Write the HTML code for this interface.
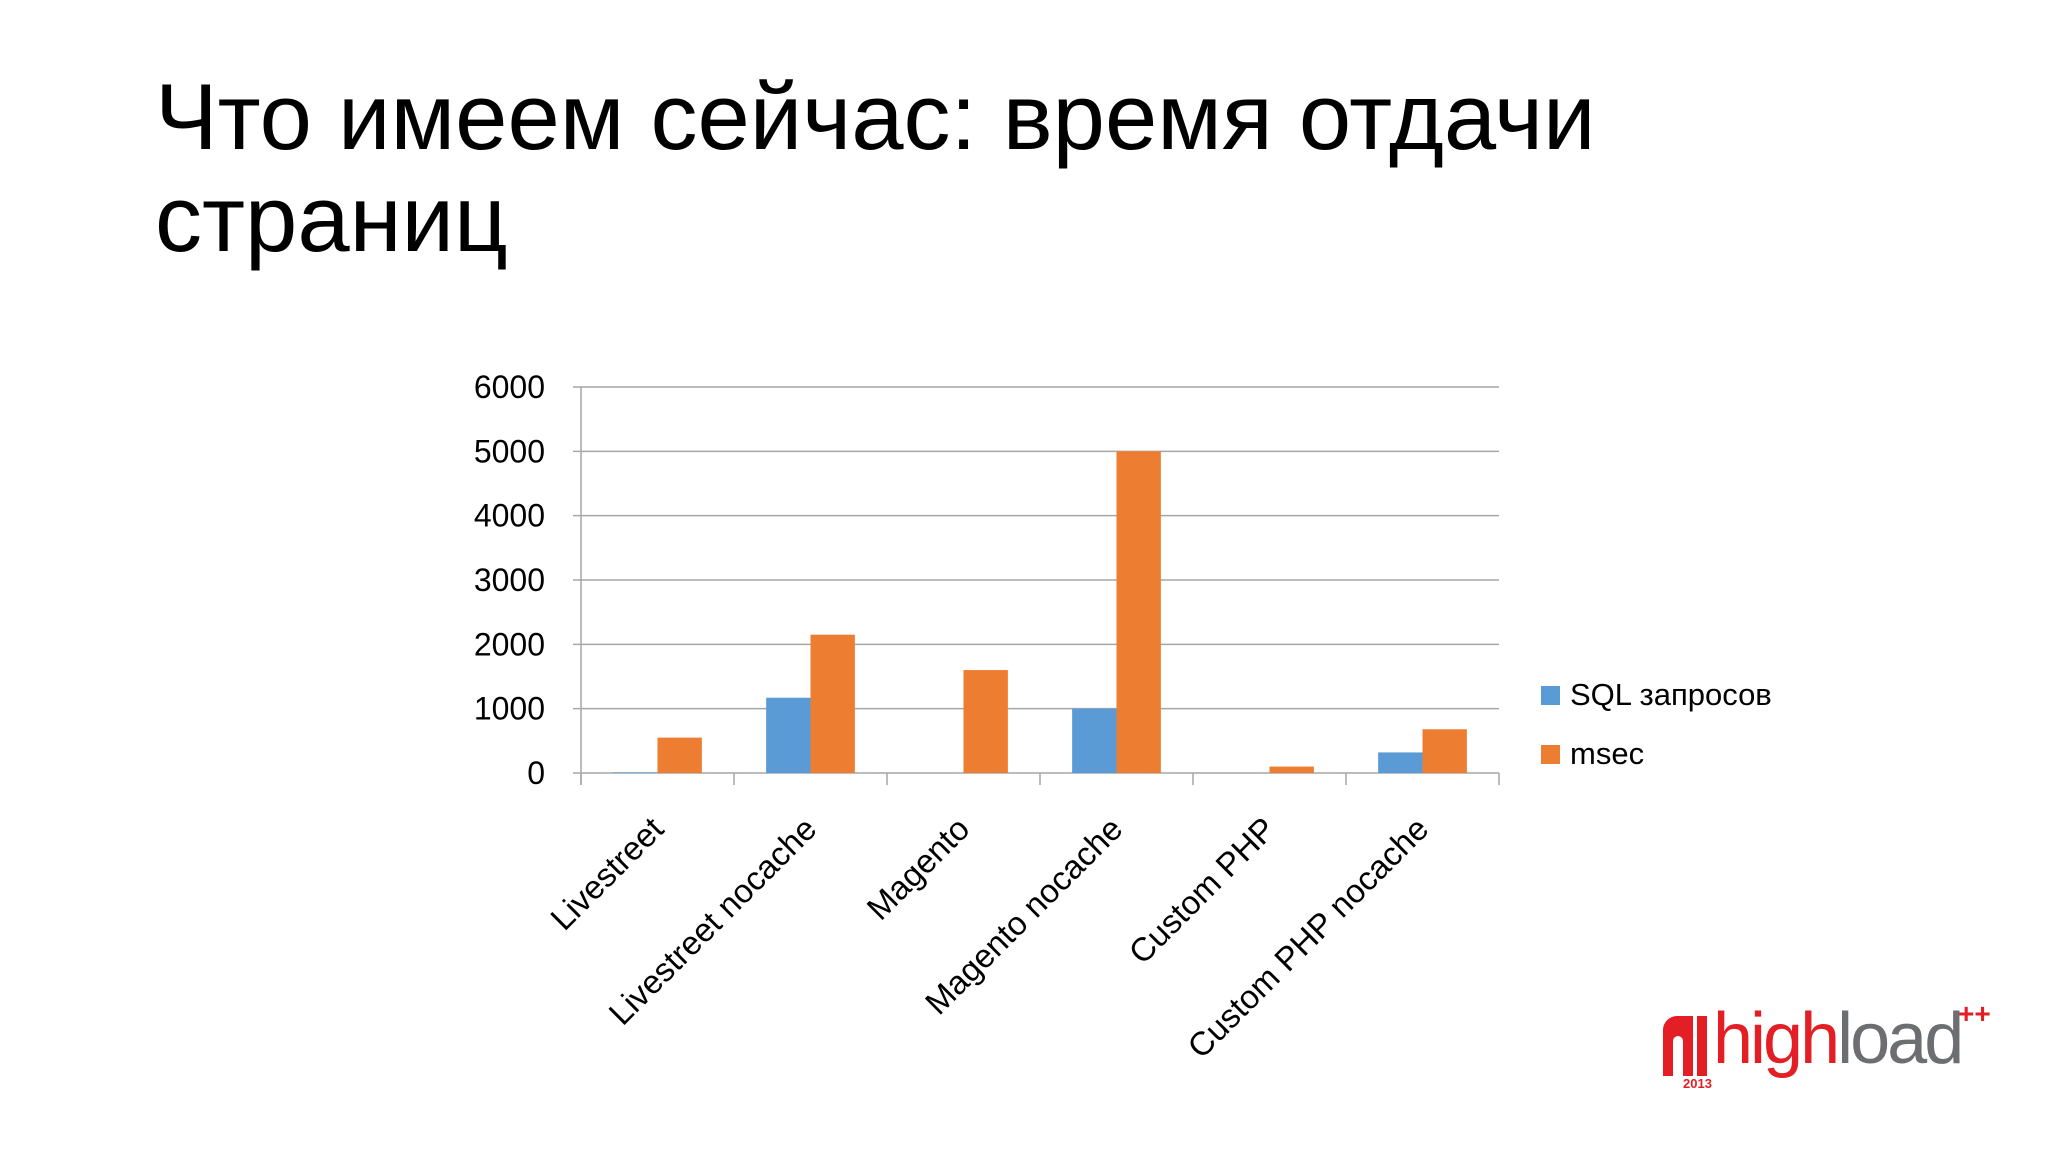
<!DOCTYPE html>
<html><head><meta charset="utf-8"><style>
body{margin:0;width:2048px;height:1152px;background:#fff;overflow:hidden;font-family:"Liberation Sans",sans-serif}
#title{position:absolute;left:155px;top:66px;font-size:94px;line-height:102px;color:#000;margin:0;font-weight:normal}
</style></head><body>
<h1 id="title">Что имеем сейчас: время отдачи<br>страниц</h1>
<svg id="chart" width="2048" height="1152" style="position:absolute;left:0;top:0"></svg>
<script>
const categories=["Livestreet","Livestreet nocache","Magento","Magento nocache","Custom PHP","Custom PHP nocache"];
const sqlValues=[10,1170,0,1000,0,320];
const msecValues=[550,2150,1600,5000,100,680];
const yTicks=[0,1000,2000,3000,4000,5000,6000];
const seriesNames=["SQL запросов","msec"];
const svg=document.getElementById('chart');
const NS='http://www.w3.org/2000/svg';
const x0=581,x1=1499,y0=773,yTop=387,ymax=6000;
const cw=(x1-x0)/categories.length;
const bw=cw*0.29;
function y(v){return y0-(v/ymax)*(y0-yTop);}
function mk(t,a,txt){const e=document.createElementNS(NS,t);for(const k in a)e.setAttribute(k,a[k]);if(txt!==undefined)e.textContent=txt;svg.appendChild(e);return e;}
yTicks.forEach(v=>{
 const l=mk('line',{x1:x0-8,x2:x1,y1:y(v),y2:y(v),stroke:'#a6a6a6','stroke-width':1.5});
 
 
 const t=mk('text',{x:545,y:y(v)+11,'text-anchor':'end','font-size':32,fill:'#000','font-family':'Liberation Sans Narrow, Liberation Sans, sans-serif'},v);
 
 
});
const ax=mk('line',{x1:x0,x2:x0,y1:yTop,y2:y0+12,stroke:'#a6a6a6','stroke-width':1.5});


for(let i=0;i<=categories.length;i++){
 const tk=mk('line',{x1:x0+i*cw,x2:x0+i*cw,y1:y0,y2:y0+12,stroke:'#a6a6a6','stroke-width':1.5});
 
 
}
categories.forEach((c,i)=>{
 const gx=x0+i*cw;
 const bx=gx+(cw-2*bw)/2;
 const b1=mk('rect',{x:bx,y:y(sqlValues[i]),width:bw,height:y0-y(sqlValues[i]),fill:'#5b9bd5'});
 
 
 const b2=mk('rect',{x:bx+bw,y:y(msecValues[i]),width:bw,height:y0-y(msecValues[i]),fill:'#ed7d31'});
 
 
 const cx=gx+cw/2+8, cy=y0+58;
 const t=mk('text',{x:cx,y:cy,'text-anchor':'end','font-size':33,fill:'#000',transform:`rotate(-45 ${cx} ${cy})`},c);
 
 
});
const colors=['#5b9bd5','#ed7d31'];
seriesNames.forEach((n,i)=>{
 const ly=686+i*59;
 const r=mk('rect',{x:1541,y:ly,width:19,height:19,fill:colors[i]});
 
 
 const t=mk('text',{x:1570,y:ly+19,'font-size':31,fill:'#000'},n);
 
 
});
</script>
<div style="position:absolute;left:1663px;top:1010px;width:340px;height:85px">
 <div style="position:absolute;left:0;top:6px;width:30px;height:60px;background:#e31e24;border-radius:14px 0 0 0"></div>
 <div style="position:absolute;left:10px;top:26px;width:10px;height:40px;background:#fff;border-radius:5px 5px 0 0"></div>
 <div style="position:absolute;left:34px;top:6px;width:10px;height:60px;background:#e31e24"></div>
 <div style="position:absolute;left:20px;top:66px;font-size:13px;font-weight:bold;color:#e31e24">2013</div>
 <div style="position:absolute;left:50px;top:-12px;font-size:72px;letter-spacing:-3px;font-family:'Liberation Sans Narrow','Liberation Sans',sans-serif"><span style="color:#e31e24">high</span><span style="color:#6d6e71">load</span></div>
 <div style="position:absolute;left:295px;top:-12px;font-size:28px;font-weight:bold;color:#e31e24">++</div>
</div>
</body></html>
